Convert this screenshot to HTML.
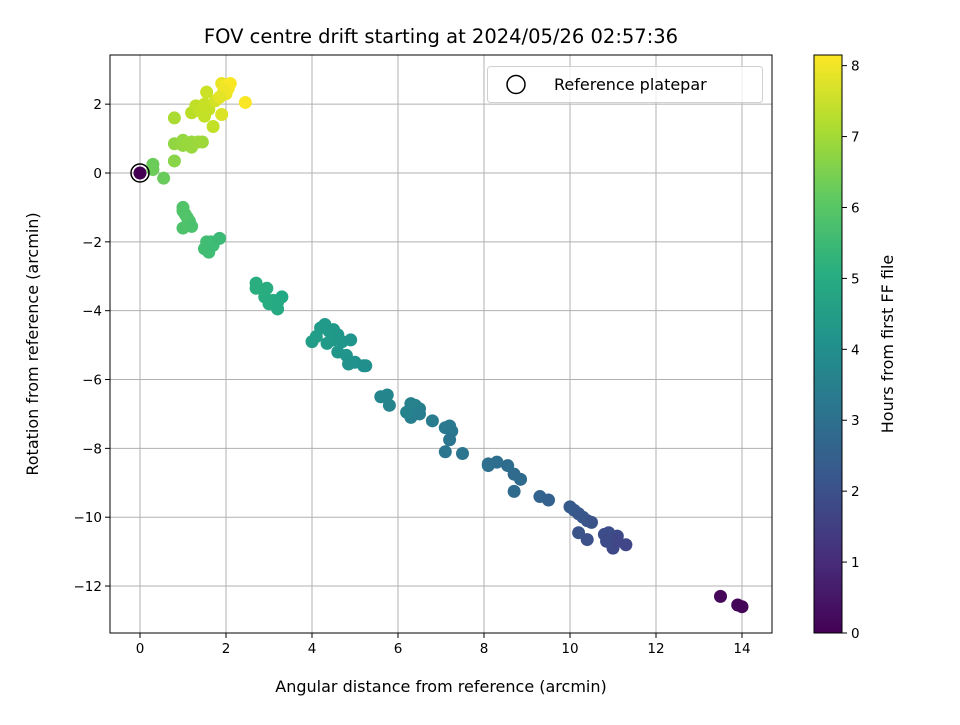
<!DOCTYPE html>
<html><head><meta charset="utf-8"><style>
body{margin:0;background:#fff;}
svg text{font-family:"DejaVu Sans","Liberation Sans",sans-serif;fill:#000;}
</style></head><body>
<svg id="c" width="960" height="720" viewBox="0 0 960 720" xmlns="http://www.w3.org/2000/svg">
<defs><linearGradient id="vg" x1="0" y1="1" x2="0" y2="0">
<stop offset="0" stop-color="#440154"/><stop offset="0.125" stop-color="#472d7b"/><stop offset="0.25" stop-color="#3b528b"/><stop offset="0.375" stop-color="#2c728e"/><stop offset="0.5" stop-color="#21918c"/><stop offset="0.625" stop-color="#28ae80"/><stop offset="0.75" stop-color="#5ec962"/><stop offset="0.875" stop-color="#addc30"/><stop offset="1" stop-color="#fde725"/></linearGradient></defs>
</svg>
<script>
const xs=[0,13.5,13.9,14.0,10.0,10.1,10.2,10.3,10.4,10.5,10.2,10.4,10.8,10.9,10.9,11.0,11.0,11.1,11.1,11.3,10.85,9.3,9.5,8.1,8.1,8.3,8.55,8.7,8.85,8.7,7.1,7.2,7.25,7.2,7.1,7.5,6.8,6.5,6.4,6.3,6.4,6.3,6.2,6.5,5.6,5.75,5.8,4.0,4.1,4.2,4.3,4.4,4.5,4.35,4.5,4.6,4.7,4.6,4.8,4.9,4.85,5.0,5.2,5.25,2.7,2.7,2.9,2.95,3.0,3.1,3.2,3.3,3.2,1.5,1.55,1.6,1.65,1.7,1.85,1.0,1.0,1.1,1.15,1.2,1.0,1.05,0.3,0.3,0.55,0.8,1.0,1.0,1.2,1.2,1.35,1.45,1.1,0.8,0.8,1.2,1.3,1.4,1.5,1.5,1.55,1.6,1.7,1.75,1.9,1.9,2.0,2.0,2.05,2.1,1.95,2.45,1.85];
const ys=[0,-12.3,-12.55,-12.6,-9.7,-9.8,-9.9,-10.0,-10.1,-10.15,-10.45,-10.65,-10.5,-10.6,-10.45,-10.7,-10.9,-10.55,-10.7,-10.8,-10.7,-9.4,-9.5,-8.5,-8.45,-8.4,-8.5,-8.75,-8.9,-9.25,-7.4,-7.35,-7.5,-7.75,-8.1,-8.15,-7.2,-6.85,-6.9,-6.7,-6.75,-7.1,-6.95,-7.0,-6.5,-6.45,-6.75,-4.9,-4.75,-4.5,-4.4,-4.6,-4.55,-4.95,-4.85,-4.7,-4.9,-5.2,-5.3,-4.85,-5.55,-5.5,-5.6,-5.6,-3.2,-3.35,-3.6,-3.35,-3.8,-3.7,-3.95,-3.6,-3.75,-2.2,-2.0,-2.3,-2.0,-2.1,-1.9,-1.0,-1.1,-1.3,-1.4,-1.55,-1.6,-1.2,0.25,0.1,-0.15,0.85,0.8,0.95,0.9,0.75,0.9,0.9,0.85,0.35,1.6,1.75,1.95,1.8,1.65,2.0,2.35,1.85,1.35,2.1,1.7,2.6,2.3,2.55,2.45,2.6,2.4,2.05,2.2];
const hs=[0,0.15,0.1,0.1,2.3,2.3,2.2,2.2,2.2,2.1,2.1,2.0,1.9,1.9,1.9,1.8,1.8,1.8,1.7,1.7,1.85,2.6,2.5,3.0,3.0,2.95,2.9,2.85,2.8,2.8,3.3,3.3,3.25,3.2,3.2,3.15,3.4,3.5,3.5,3.55,3.55,3.5,3.6,3.45,3.7,3.7,3.65,4.5,4.5,4.45,4.4,4.4,4.35,4.4,4.35,4.3,4.3,4.25,4.2,4.2,4.15,4.1,4.05,4.05,5.1,5.1,5.05,5.05,5.0,5.0,4.95,4.9,4.95,5.65,5.65,5.6,5.6,5.55,5.5,5.9,5.9,5.85,5.85,5.8,5.85,5.9,6.3,6.3,6.25,6.8,6.85,6.85,6.9,6.9,6.95,6.95,6.9,6.7,7.1,7.3,7.35,7.4,7.4,7.45,7.5,7.45,7.4,7.6,7.7,7.9,7.9,8.0,8.0,8.1,7.95,8.1,7.8];
const xTicks=[0,2,4,6,8,10,12,14];
const yTicks=[2,0,-2,-4,-6,-8,-10,-12];
const cTicks=[0,1,2,3,4,5,6,7,8];
const hMax=8.15;
const L=110,R=772,T=55,B=633;
const sx=v=>140+v*43, sy=v=>173-v*34.42;
const cy=v=>633-v*(578/hMax);
const vir=["#440154","#482475","#414487","#355f8d","#2a788e","#21918c","#22a884","#44bf70","#7ad151","#bddf26","#fde725"];
function hex(h){return [1,3,5].map(i=>parseInt(h.substr(i,2),16));}
function col(h){let t=Math.max(0,Math.min(1,h/hMax))*10,i=Math.min(9,Math.floor(t)),f=t-i,a=hex(vir[i]),b=hex(vir[i+1]);return "rgb("+a.map((v,k)=>Math.round(v+(b[k]-v)*f)).join(",")+")";}
const svg=document.getElementById('c');const NS="http://www.w3.org/2000/svg";
function el(tag,at,txt){const e=document.createElementNS(NS,tag);for(const k in at)e.setAttribute(k,at[k]);if(txt!==undefined)e.textContent=txt;svg.appendChild(e);return e;}
let e;
xTicks.forEach(v=>{e=el('line',{x1:sx(v),x2:sx(v),y1:T,y2:B,stroke:'#b0b0b0','stroke-width':1});
e=el('line',{x1:sx(v),x2:sx(v),y1:B,y2:B+5,stroke:'#000'});
e=el('text',{x:sx(v),y:B+20,'text-anchor':'middle','font-size':'13.5'},String(v));});
yTicks.forEach(v=>{e=el('line',{x1:L,x2:R,y1:sy(v),y2:sy(v),stroke:'#b0b0b0','stroke-width':1});
e=el('line',{x1:L-5,x2:L,y1:sy(v),y2:sy(v),stroke:'#000'});
e=el('text',{x:L-8,y:sy(v)+5,'text-anchor':'end','font-size':'13.5'},(v<0?'\u2212'+(-v):String(v)));});
xs.forEach((x,i)=>{e=el('circle',{cx:sx(x),cy:sy(ys[i]),r:6.5,fill:col(hs[i])});});
e=el('circle',{cx:sx(0),cy:sy(0),r:9,fill:'none',stroke:'#000','stroke-width':1.5});
e=el('rect',{x:L,y:T,width:R-L,height:B-T,fill:'none',stroke:'#000','stroke-width':1});
e=el('rect',{x:487.5,y:66.5,width:275,height:36,rx:3,fill:'#fff','fill-opacity':0.8,stroke:'#d0d0d0'});
e=el('circle',{cx:516,cy:84.5,r:9,fill:'none',stroke:'#000','stroke-width':1.5});
e=el('text',{x:554,y:90,'font-size':'16'},'Reference platepar');
e=el('text',{x:441,y:43,'text-anchor':'middle','font-size':'19.5'},'FOV centre drift starting at 2024/05/26 02:57:36');
e=el('text',{x:441,y:692,'text-anchor':'middle','font-size':'16'},'Angular distance from reference (arcmin)');
e=el('text',{x:38,y:344,'text-anchor':'middle','font-size':'16',transform:'rotate(-90 38 344)'},'Rotation from reference (arcmin)');
e=el('rect',{x:814,y:T,width:28,height:B-T,fill:'url(#vg)',stroke:'#000','stroke-width':1});
cTicks.forEach(v=>{e=el('line',{x1:842,x2:847,y1:cy(v),y2:cy(v),stroke:'#000'});
e=el('text',{x:851,y:cy(v)+5,'font-size':'13.5'},String(v));});
e=el('text',{x:893,y:344,'text-anchor':'middle','font-size':'16',transform:'rotate(-90 893 344)'},'Hours from first FF file');
</script>
</body></html>
